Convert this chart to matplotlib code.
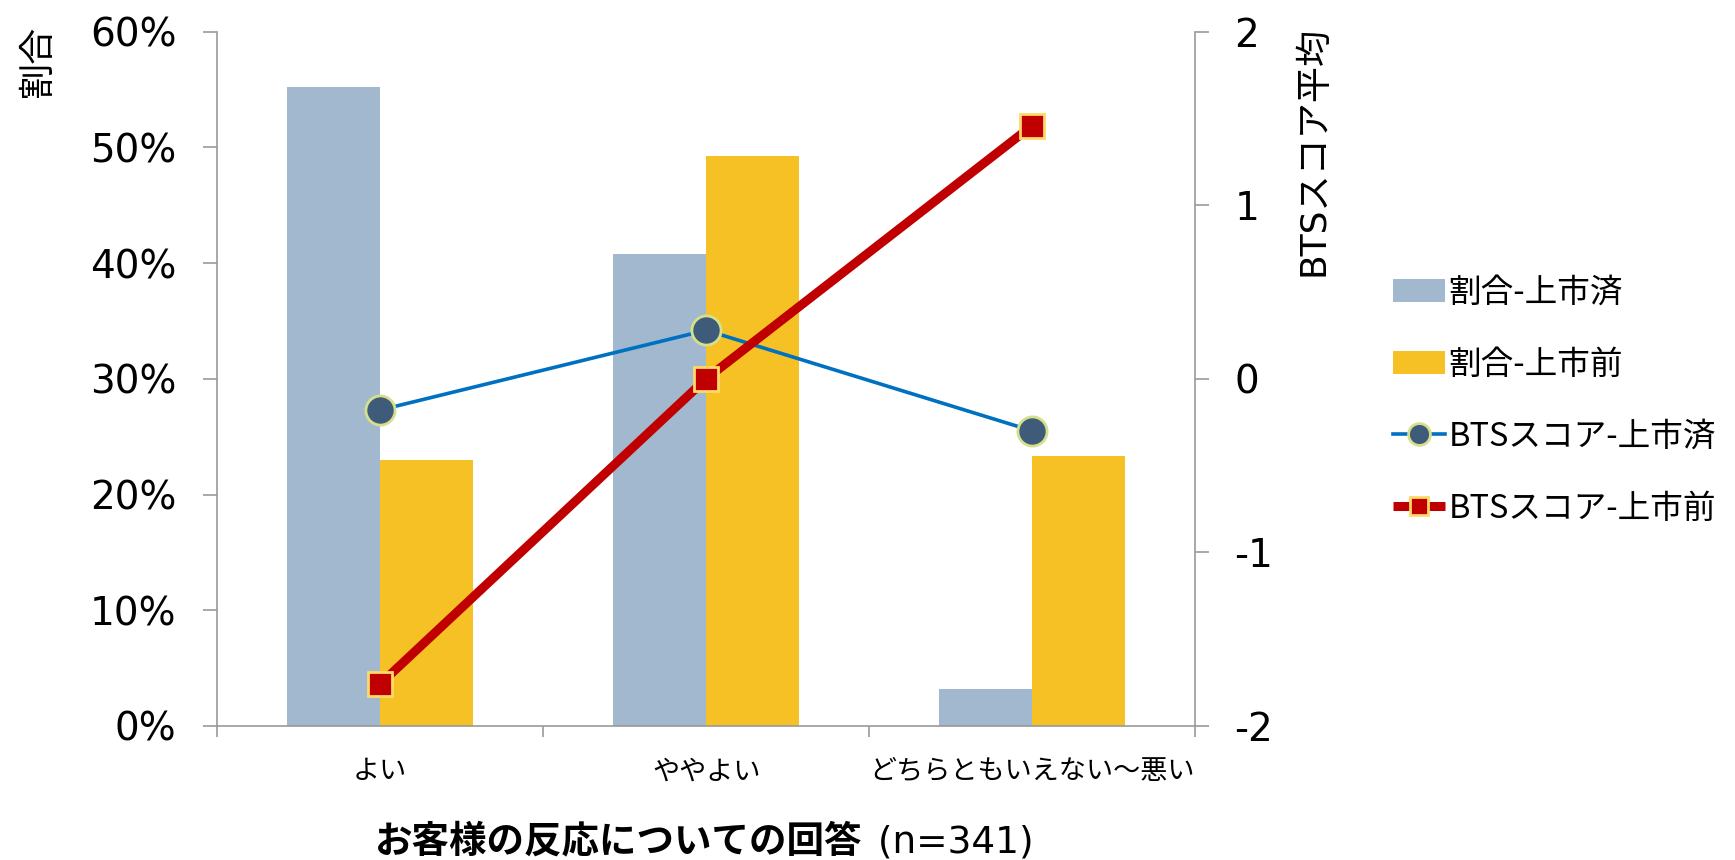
import matplotlib
matplotlib.use("Agg")
import matplotlib.pyplot as plt
import numpy as np
from matplotlib.ticker import FuncFormatter

plt.rcParams['font.family'] = ['DejaVu Sans', 'Noto Sans CJK JP']

# データ
categories = ["よい", "ややよい", "どちらともいえない〜悪い"]
share_listed = [55.2, 40.8, 3.2]      # 割合-上市済 (%)
share_prelaunch = [23.0, 49.3, 23.3]  # 割合-上市前 (%)
bts_listed = [-0.18, 0.28, -0.30]     # BTSスコア-上市済
bts_prelaunch = [-1.76, 0.0, 1.46]    # BTSスコア-上市前

c_blue_bar = "#A2B8CF"
c_yellow_bar = "#F6C124"
c_blue_line = "#0070C0"
c_red_line = "#C00000"
c_axis = "#999999"

fig = plt.figure(figsize=(17.35, 8.6), dpi=100)
ax = fig.add_axes([0.125, 0.156, 0.564, 0.807])

x = np.arange(len(categories))
w = 0.285
b1 = ax.bar(x - w / 2, share_listed, w, color=c_blue_bar, label="割合-上市済")
b2 = ax.bar(x + w / 2, share_prelaunch, w, color=c_yellow_bar, label="割合-上市前")

ax.set_xlim(-0.5, 2.5)
ax.set_ylim(0, 60)
ax.set_yticks(np.arange(0, 61, 10))
ax.yaxis.set_major_formatter(FuncFormatter(lambda v, p: f"{v:.0f}%"))

# x軸: 区切り位置に目盛り、ラベルは中央
ax.set_xticks(x)
ax.set_xticklabels(categories, fontsize=19.5)
ax.set_xticks(np.arange(-0.5, 2.6, 1), minor=True)
ax.tick_params(axis="x", which="major", length=0, pad=24)
ax.tick_params(axis="x", which="minor", length=8, color=c_axis, width=1.2)
ax.tick_params(axis="y", labelsize=28, length=10, color=c_axis, width=1.2, pad=19)

for s in ["top", "right"]:
    ax.spines[s].set_visible(False)
for s in ["left", "bottom"]:
    ax.spines[s].set_color(c_axis)
    ax.spines[s].set_linewidth(1.2)

ax2 = ax.twinx()
l1, = ax2.plot(x, bts_listed, color=c_blue_line, lw=2.6, marker="o", ms=21,
               mfc="#3E5B7A", mec="#D6E08C", mew=2, label="BTSスコア-上市済")
l2, = ax2.plot(x, bts_prelaunch, color=c_red_line, lw=6.5, marker="s", ms=17,
               mfc=c_red_line, mec="#FFD966", mew=2, label="BTSスコア-上市前",
               solid_capstyle="butt")
ax2.set_ylim(-2, 2)
ax2.set_yticks([-2, -1, 0, 1, 2])
ax2.yaxis.set_major_formatter(FuncFormatter(lambda v, p: f"{v:.0f}".replace("\u2212", "-")))
ax2.tick_params(axis="y", labelsize=28, length=10, color=c_axis, width=1.2, pad=18)
for s in ["top", "left", "bottom"]:
    ax2.spines[s].set_visible(False)
ax2.spines["right"].set_color(c_axis)
ax2.spines["right"].set_linewidth(1.2)

# 軸ラベル
fig.text(0.022, 0.97, "割合", rotation=90, fontsize=26, ha="center", va="top")
fig.text(0.757, 0.97, "BTSスコア平均", rotation=90, fontsize=26, ha="center", va="top")

fig.text(0.497, 0.02, "お客様の反応についての回答", fontsize=27, fontweight="bold",
         ha="right", va="center")
fig.text(0.499, 0.02, " (n=341)", fontsize=27, ha="left", va="center")

fig.legend(handles=[b1, b2, l1, l2], loc="upper left", bbox_to_anchor=(0.786, 0.712),
           frameon=False, prop={"family": "Noto Sans CJK JP", "size": 23.5},
           labelspacing=1.22, handlelength=1.6, handletextpad=0.1, markerscale=0.75)

fig.savefig("out.png", dpi=100)
